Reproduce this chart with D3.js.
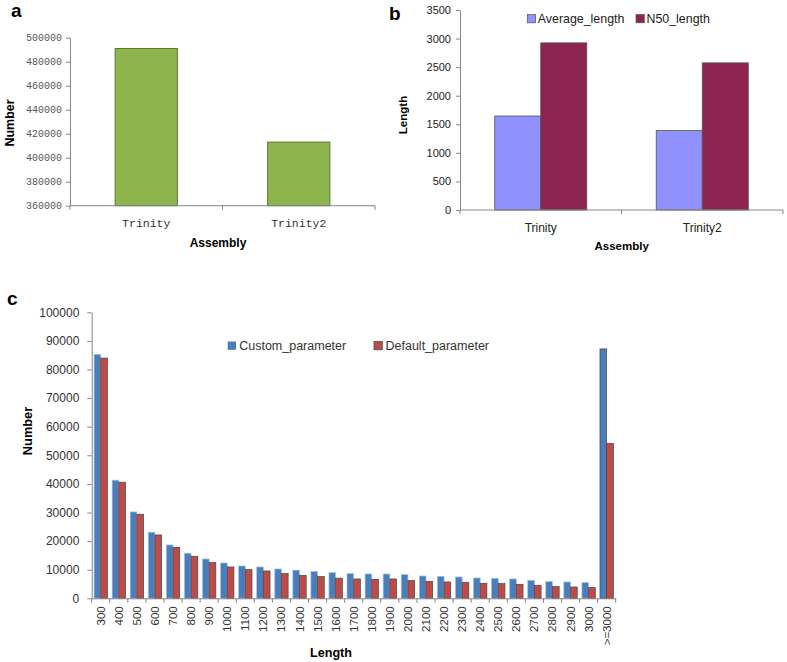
<!DOCTYPE html>
<html><head><meta charset="utf-8">
<script src="https://cdn.jsdelivr.net/npm/d3@7"></script>
<style>body{margin:0;background:#fff}svg{display:block}</style>
</head><body><svg id="c" width="787" height="662"></svg>
<script>
// ---- data ----
const assemblies = ["Trinity", "Trinity2"];
const numberA = [491000, 413000];
const ticksA = [360000, 380000, 400000, 420000, 440000, 460000, 480000, 500000];

const seriesB = ["Average_length", "N50_length"];
const averageLength = [1645, 1390];
const n50Length = [2925, 2575];
const ticksB = [0, 500, 1000, 1500, 2000, 2500, 3000, 3500];

const lengthCats = ["300","400","500","600","700","800","900","1000","1100","1200","1300","1400","1500","1600","1700","1800","1900","2000","2100","2200","2300","2400","2500","2600","2700","2800","2900","3000",">=3000"];
const seriesC = ["Custom_parameter", "Default_parameter"];
const customParam = [85300,41300,30200,23100,18650,15750,13750,12350,11300,10950,10250,9850,9400,8970,8620,8510,8510,8280,7810,7690,7460,7110,6990,6760,6290,5830,5710,5480,87200];
const defaultParam = [84000,40600,29400,22150,17830,14700,12470,10960,10020,9560,8620,8040,7580,7050,6760,6640,6760,6180,5940,5710,5590,5250,5130,4900,4550,4080,3960,3730,54200];
const ticksC = [0,10000,20000,30000,40000,50000,60000,70000,80000,90000,100000];

const svg = d3.select("#c");
const axisCol = "#868686";
function styleAxis(g){ g.select(".domain").attr("stroke", axisCol); g.selectAll(".tick line").attr("stroke", axisCol); }

// ---- Panel a ----
{
  const x = d3.scaleBand().domain(assemblies).range([70, 375]).paddingInner(0.592).paddingOuter(0.296);
  const y = d3.scaleLinear().domain([360000, 500000]).range([205.7, 37.7]);
  const g = svg.append("g");
  g.append("g").attr("transform","translate(70,0)")
    .call(d3.axisLeft(y).tickValues(ticksA).tickSize(4).tickSizeOuter(0).tickPadding(4).tickFormat(d3.format("d")))
    .call(styleAxis)
    .call(s=>s.selectAll("text").attr("font-family","Liberation Mono, monospace").attr("font-size",10).attr("fill","#555"));
  g.selectAll("rect.a").data(assemblies).join("rect")
    .attr("x", d=>x(d)).attr("width", x.bandwidth())
    .attr("y", (d,i)=>y(numberA[i])).attr("height",(d,i)=>y(360000)-y(numberA[i]))
    .attr("fill","#8eb44e").attr("stroke","#5b7b2b").attr("stroke-width",1);
  const xa = g.append("g").attr("transform","translate(0,205.7)");
  xa.append("line").attr("x1",70).attr("x2",375).attr("stroke",axisCol);
  [70, (70+375)/2, 375].forEach(v=>xa.append("line").attr("x1",v).attr("x2",v).attr("y1",0).attr("y2",4).attr("stroke",axisCol));
  g.selectAll("text.xl").data(assemblies).join("text")
    .attr("x", d=>x(d)+x.bandwidth()/2).attr("y",227).attr("text-anchor","middle")
    .attr("font-family","Liberation Mono, monospace").attr("font-size",11.5).attr("fill","#333").text(d=>d);
  g.append("text").attr("x",218).attr("y",247).attr("text-anchor","middle").attr("font-family","Liberation Sans, Arial").attr("font-weight","bold").attr("font-size",12).text("Assembly");
  g.append("text").attr("transform","translate(14,123) rotate(-90)").attr("text-anchor","middle").attr("font-family","Liberation Sans, Arial").attr("font-weight","bold").attr("font-size",12.5).text("Number");
  g.append("text").attr("x",11).attr("y",17).attr("font-family","Liberation Sans, Arial").attr("font-weight","bold").attr("font-size",19).text("a");
}

// ---- Panel b ----
{
  const x0 = d3.scaleBand().domain(assemblies).range([460, 783]).paddingInner(0.43).paddingOuter(0.215);
  const x1 = d3.scaleBand().domain(seriesB).range([0, x0.bandwidth()]);
  const y = d3.scaleLinear().domain([0, 3500]).range([210, 10]);
  const colB = {"Average_length":"#9090ff","N50_length":"#8e2452"};
  const vals = {"Average_length":averageLength,"N50_length":n50Length};
  const g = svg.append("g");
  g.append("g").attr("transform","translate(460,0)")
    .call(d3.axisLeft(y).tickValues(ticksB).tickSize(4).tickSizeOuter(0).tickPadding(5).tickFormat(d3.format("d")))
    .call(styleAxis)
    .call(s=>s.selectAll("text").attr("font-family","Liberation Sans, Arial").attr("font-size",11).attr("fill","#222"));
  assemblies.forEach((a,i)=>{
    g.selectAll(null).data(seriesB).join("rect")
      .attr("x", s=>x0(a)+x1(s)).attr("width", x1.bandwidth())
      .attr("y", s=>y(vals[s][i])).attr("height", s=>y(0)-y(vals[s][i]))
      .attr("fill", s=>colB[s]).attr("stroke","#555").attr("stroke-width",0.8);
  });
  const xa = g.append("g").attr("transform","translate(0,210)");
  xa.append("line").attr("x1",460).attr("x2",783).attr("stroke",axisCol);
  [460, (460+783)/2, 783].forEach(v=>xa.append("line").attr("x1",v).attr("x2",v).attr("y1",0).attr("y2",4).attr("stroke",axisCol));
  g.selectAll("text.xl").data(assemblies).join("text")
    .attr("x", d=>x0(d)+x0.bandwidth()/2).attr("y",232).attr("text-anchor","middle")
    .attr("font-family","Liberation Sans, Arial").attr("font-size",12).attr("fill","#222").text(d=>d);
  g.append("text").attr("x",621.7).attr("y",250).attr("text-anchor","middle").attr("font-family","Liberation Sans, Arial").attr("font-weight","bold").attr("font-size",11.5).text("Assembly");
  g.append("text").attr("transform","translate(407,115) rotate(-90)").attr("text-anchor","middle").attr("font-family","Liberation Sans, Arial").attr("font-weight","bold").attr("font-size",11.5).text("Length");
  g.append("text").attr("x",389).attr("y",20).attr("font-family","Liberation Sans, Arial").attr("font-weight","bold").attr("font-size",19).text("b");
  const legX = [527.3, 636];
  seriesB.forEach((s,i)=>{
    g.append("rect").attr("x",legX[i]).attr("y",14.5).attr("width",8.3).attr("height",8.3).attr("fill",colB[s]).attr("stroke","#555").attr("stroke-width",0.7);
    g.append("text").attr("x",legX[i]+10.5).attr("y",23).attr("font-family","Liberation Sans, Arial").attr("font-size",12.4).attr("fill","#222").text(s);
  });
}

// ---- Panel c ----
{
  const x0 = d3.scaleBand().domain(lengthCats).range([91.7, 615.7]).paddingInner(0.26).paddingOuter(0.13);
  const x1 = d3.scaleBand().domain(seriesC).range([0, x0.bandwidth()]);
  const y = d3.scaleLinear().domain([0, 100000]).range([598.3, 312.3]);
  const colC = {"Custom_parameter":"#4a7ebb","Default_parameter":"#be4b48"};
  const vals = {"Custom_parameter":customParam,"Default_parameter":defaultParam};
  const g = svg.append("g");
  g.append("g").attr("transform","translate(91.7,0)")
    .call(d3.axisLeft(y).tickValues(ticksC).tickSize(4.4).tickSizeOuter(0).tickPadding(8).tickFormat(d3.format("d")))
    .call(styleAxis)
    .call(s=>s.selectAll("text").attr("font-family","Liberation Sans, Arial").attr("font-size",12).attr("fill","#333"));
  lengthCats.forEach((c,i)=>{
    g.selectAll(null).data(seriesC).join("rect")
      .attr("x", s=>x0(c)+x1(s)).attr("width", x1.bandwidth())
      .attr("y", s=>y(vals[s][i])).attr("height", s=>y(0)-y(vals[s][i]))
      .attr("fill", s=>colC[s])
      .attr("stroke", s=> s==="Default_parameter" || i===lengthCats.length-1 ? "#444" : "#a9c1e0")
      .attr("stroke-width", 0.7);
  });
  const xg = g.append("g").attr("transform","translate(0,598.3)")
    .call(d3.axisBottom(x0).tickSize(0).tickSizeOuter(0));
  xg.select(".domain").attr("stroke", axisCol);
  xg.selectAll(".tick text").attr("transform","rotate(-90)").attr("x",-8).attr("y",0).attr("dy","0.35em")
    .attr("text-anchor","end").attr("font-family","Liberation Sans, Arial").attr("font-size",11.5).attr("fill","#333");
  const step = x0.step();
  d3.range(lengthCats.length+1).forEach(i=>{
    const v = 91.7 + i*step;
    xg.append("line").attr("x1",v).attr("x2",v).attr("y1",0).attr("y2",4.5).attr("stroke",axisCol);
  });
  g.append("text").attr("x",331).attr("y",657).attr("text-anchor","middle").attr("font-family","Liberation Sans, Arial").attr("font-weight","bold").attr("font-size",12.6).text("Length");
  g.append("text").attr("transform","translate(31.5,431) rotate(-90)").attr("text-anchor","middle").attr("font-family","Liberation Sans, Arial").attr("font-weight","bold").attr("font-size",12.8).text("Number");
  g.append("text").attr("x",7).attr("y",305).attr("font-family","Liberation Sans, Arial").attr("font-weight","bold").attr("font-size",19).text("c");
  const legX = [227.7, 374];
  seriesC.forEach((s,i)=>{
    g.append("rect").attr("x",legX[i]).attr("y",341.5).attr("width",8.3).attr("height",8.3).attr("fill",colC[s]).attr("stroke", i===1?"#444":"none").attr("stroke-width",0.7);
    g.append("text").attr("x",legX[i]+11.5).attr("y",350).attr("font-family","Liberation Sans, Arial").attr("font-size",12.5).attr("fill","#333").text(s);
  });
}
</script></body></html>
